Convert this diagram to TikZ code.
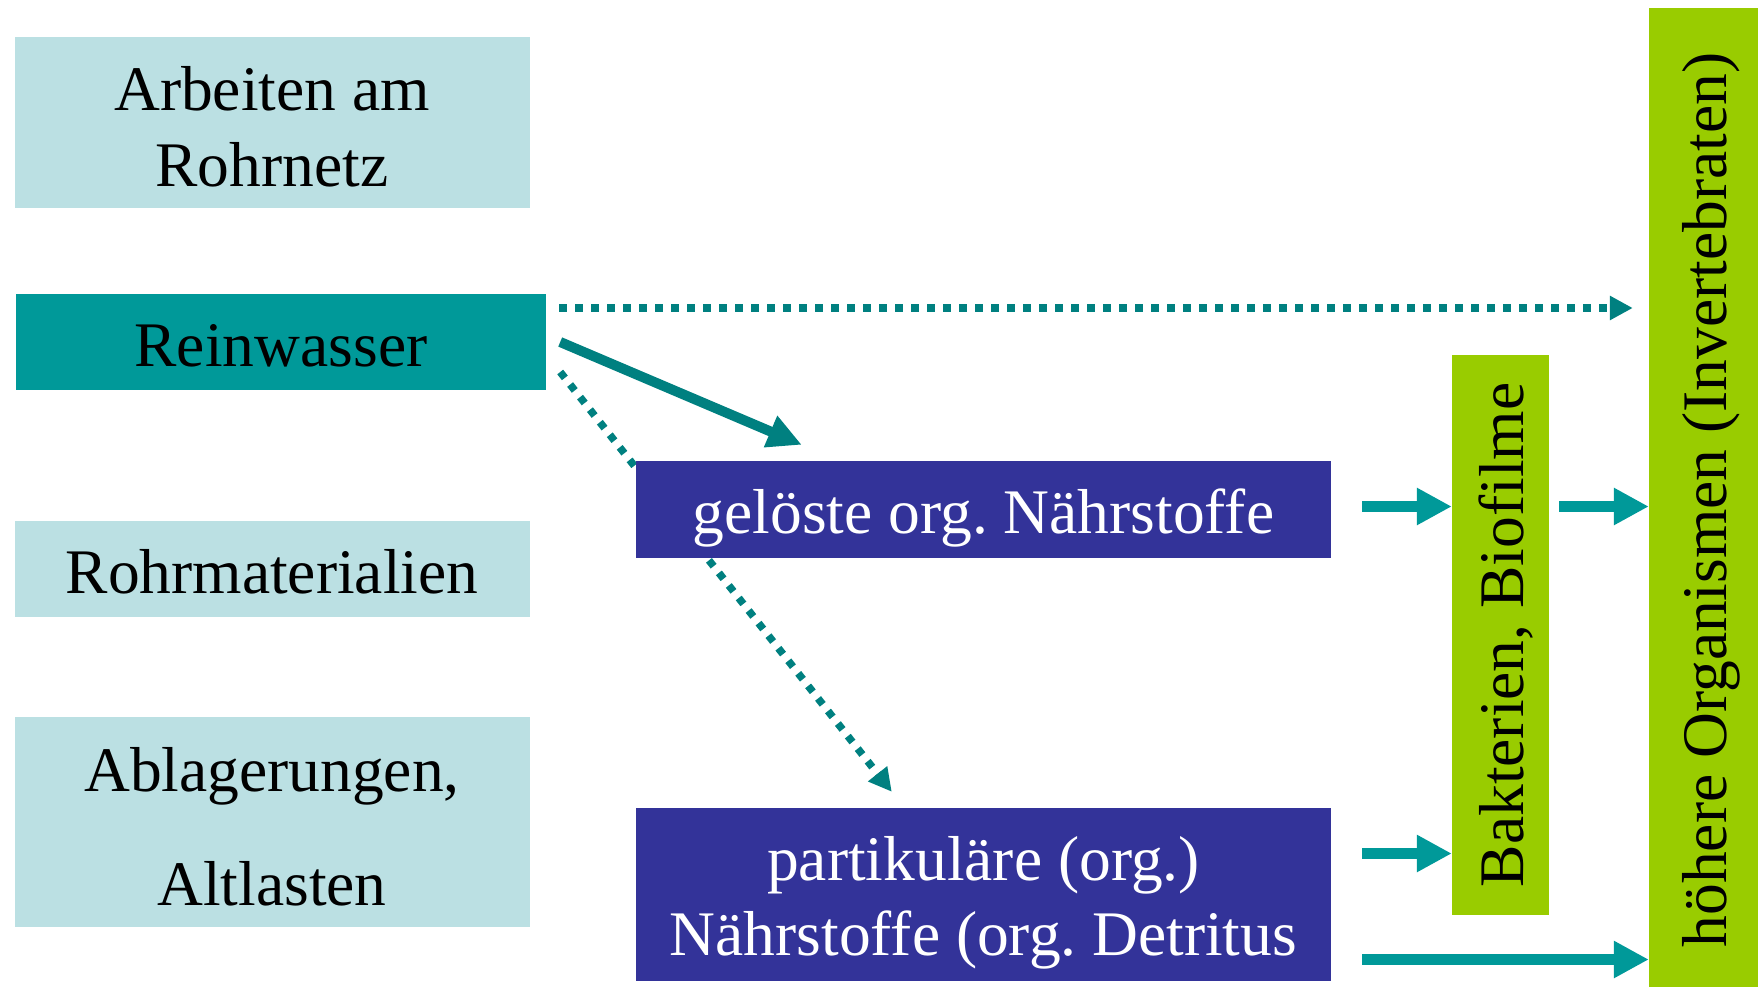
\documentclass[tikz,border=0pt]{standalone}
\usepackage{fontspec}
\setmainfont{Liberation Serif}
\usetikzlibrary{arrows.meta,calc}
\definecolor{lightteal}{HTML}{BBE0E3}
\definecolor{midteal}{HTML}{009999}
\definecolor{darkteal}{HTML}{008080}
\definecolor{navyblue}{HTML}{333399}
\definecolor{leafgreen}{HTML}{99CC00}
\pgfdeclarelayer{bg}
\pgfsetlayers{bg,main}
\tikzset{
  box/.style={rectangle,inner sep=0pt,align=center,text depth=0pt,text height=48pt,
    font=\frenchspacing\fontsize{63.5}{76}\selectfont},
  sourcebox/.style={box,fill=lightteal,minimum width=515pt},
  waterbox/.style={box,fill=midteal,minimum width=530pt,minimum height=96pt},
  nutrientbox/.style={box,fill=navyblue,text=white,minimum width=695pt},
  lifebox/.style={box,fill=leafgreen,rotate=90,text height=46pt},
  dotarrow/.style={draw=darkteal,line width=7.5pt,dash pattern=on 7.5pt off 8.5pt,
    -{Triangle[length=23pt,width=23pt]}},
  slantarrow/.style={draw=darkteal,line width=10pt,-{Triangle[length=34pt,width=32pt]}},
  feedarrow/.style={draw=midteal,line width=11pt,-{Triangle[length=35pt,width=35pt]}}
}
\begin{document}
\begin{tikzpicture}[x=1pt,y=-1pt]
\useasboundingbox (0,0) rectangle (1758,987);

% sources
\node[sourcebox,minimum height=171pt,text height=126pt] (arb) at (272,123) {Arbeiten am\\Rohrnetz};
\node[waterbox] (rein) at (281,342) {Reinwasser};
\node[sourcebox,minimum height=96pt] (rohr) at (272,569) {Rohrmaterialien};
\node[sourcebox,minimum height=210pt,text height=166pt,
  font=\fontsize{63.5}{114}\selectfont] (abl) at (272,822) {Ablagerungen,\\Altlasten};

% nutrients
\node[nutrientbox,minimum height=97pt] (gel) at (983.5,509.5) {gelöste org. Nährstoffe};
\node[nutrientbox,minimum height=173pt,text height=121pt,
  font=\frenchspacing\fontsize{63.5}{75}\selectfont] (part) at (983.5,894.5) {partikuläre (org.)\\Nährstoffe (org. Detritus};

% organisms
\node[lifebox,minimum width=560pt,minimum height=97pt] (bak) at (1500.5,635) {Bakterien, Biofilme};
\node[lifebox,minimum width=984pt,minimum height=109pt] (hoh) at (1703.5,500) {höhere Organismen (Invertebraten)};

% flows
\coordinate (toptrack) at ($(rein.east)+(13,-34)$);
\coordinate (hohleft) at ($(hoh.north)+(-16,0)$);
\coordinate (gelrow) at ($(gel.east)+(31,-3)$);
\coordinate (partrowA) at ($(part.east)+(31,-41)$);
\coordinate (partrowB) at ($(part.east)+(31,65)$);
\begin{pgfonlayer}{bg}
\draw[dotarrow] (toptrack) -- (toptrack -| hohleft);
\draw[slantarrow] ($(rein.east)+(14,0)$) -- ($(gel.north west)+(166,-16)$);
\draw[dotarrow] ($(rein.east)+(14,30)$) -- ($(part.north west)+(256,-16)$);
\draw[feedarrow] (gelrow) -- (gelrow -| bak.north);
\draw[feedarrow] ($(gelrow -| bak.south)+(10,0)$) -- (gelrow -| hoh.north);
\draw[feedarrow] (partrowA) -- (partrowA -| bak.north);
\draw[feedarrow] (partrowB) -- (partrowB -| hoh.north);
\end{pgfonlayer}
\end{tikzpicture}
\end{document}
